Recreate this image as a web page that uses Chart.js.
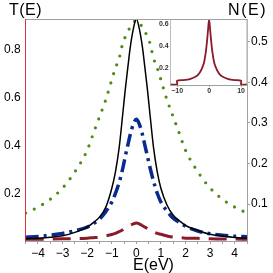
<!DOCTYPE html>
<html><head><meta charset="utf-8">
<script src="https://cdn.jsdelivr.net/npm/chart.js@4"></script>
<style>
html,body{margin:0;padding:0;background:#fff;}
#wrap{position:relative;width:273px;height:273px;overflow:hidden;font-family:"Liberation Sans",Arial,sans-serif;background:#fff;}
#main{position:absolute;left:0;top:0;width:273px;height:273px;}
#inset{position:absolute;left:150px;top:12px;width:102px;height:88px;}
.lbl{position:absolute;color:#000;white-space:nowrap;line-height:1;}
</style></head><body>
<div id="wrap">
<canvas id="main" width="273" height="273"></canvas>
<canvas id="inset" width="102" height="88"></canvas>
<div class="lbl" style="left:9px;top:2px;font-size:16px;letter-spacing:0.5px">T(E)</div>
<div class="lbl" style="left:228px;top:2px;font-size:16px;letter-spacing:1.6px">N(E)</div>
<div class="lbl" style="left:133px;top:257px;font-size:16px">E(eV)</div>
</div>
<script>
// ---- main panel data ----
const energy = [-4.5,-4,-3.5,-3,-2.5,-2,-1.75,-1.5,-1.25,-1,-0.85,-0.7,-0.55,-0.45,-0.35,-0.25,-0.12,0,0.12,0.25,0.35,0.45,0.55,0.7,0.85,1,1.25,1.5,1.75,2,2.5,3,3.5,4,4.5];
const solidT   = [0.009,0.012,0.016,0.022,0.036,0.058,0.077,0.1,0.14,0.22,0.29,0.39,0.535,0.635,0.724,0.81,0.89,0.93,0.89,0.81,0.724,0.635,0.535,0.39,0.29,0.22,0.15,0.108,0.085,0.065,0.044,0.028,0.021,0.015,0.011];
const dashDotT = [0.016,0.019,0.025,0.032,0.043,0.058,0.072,0.092,0.122,0.163,0.2,0.245,0.305,0.355,0.4,0.445,0.49,0.51,0.49,0.445,0.4,0.355,0.31,0.25,0.2,0.163,0.125,0.095,0.078,0.062,0.042,0.03,0.024,0.02,0.018];
const dashedT  = [0.007,0.007,0.008,0.009,0.01,0.012,0.014,0.016,0.021,0.027,0.032,0.039,0.047,0.054,0.06,0.066,0.072,0.075,0.072,0.064,0.058,0.052,0.046,0.038,0.032,0.028,0.021,0.016,0.014,0.012,0.011,0.009,0.008,0.008,0.007];
const dottedT  = [0.117,0.142,0.175,0.222,0.29,0.38,0.45,0.52,0.59,0.675,0.725,0.765,0.83,0.855,0.878,0.895,0.915,0.925,0.915,0.895,0.878,0.855,0.83,0.765,0.725,0.675,0.59,0.52,0.45,0.38,0.29,0.222,0.175,0.142,0.117];
const xTickValues = [-4.5,-4,-3.5,-3,-2.5,-2,-1.5,-1,-0.5,0,0.5,1,1.5,2,2.5,3,3.5,4,4.5];
const tTickValues = [0.2,0.4,0.6,0.8];
const nTickValues = [0.1,0.2,0.3,0.4,0.5];

// ---- inset data ----
const insetE = [-12,-10,-10,-8,-6,-4,-3,-2,-1.5,-1,-0.6,-0.3,0,0.3,0.6,1,1.5,2,3,4,6,8,10,10,12];
const insetN = [0.045,0.045,0.08,0.085,0.095,0.12,0.15,0.21,0.26,0.35,0.46,0.56,0.65,0.56,0.46,0.35,0.26,0.21,0.15,0.12,0.095,0.085,0.08,0.045,0.045];
const insetXTicks = [-10,0,10];
const insetYTicks = [0.2,0.4,0.6];

const FONT = '"Liberation Sans", Arial, sans-serif';
const GRAY = '#a0a0a0';
const minus = v => (v < 0 ? '\u2212' + Math.abs(v) : String(v));
const pts = (xs, ys) => xs.map((x, i) => ({x: x, y: ys[i]}));

const frameTop = {
  id: 'frameTop',
  afterDraw(chart) {
    const a = chart.chartArea, c = chart.ctx;
    c.save(); c.strokeStyle = GRAY; c.lineWidth = 1;
    c.beginPath(); c.moveTo(a.left, a.top + 0.5); c.lineTo(a.right, a.top + 0.5); c.stroke();
    c.restore();
  }
};

new Chart(document.getElementById('main'), {
  type: 'line',
  data: {
    datasets: [
      {data: pts(energy, solidT), borderColor: '#000', borderWidth: 1.5, yAxisID: 'y'},
      {data: pts(energy, dashDotT), borderColor: '#0b2a8f', borderWidth: 3.5, borderDash: [13,5,3,5], yAxisID: 'y'},
      {data: pts(energy, dashedT), borderColor: '#8c1a2b', borderWidth: 3, borderDash: [18,9], yAxisID: 'y'},
      {data: pts(energy, dottedT), borderColor: '#4f8a12', borderWidth: 3.2, borderDash: [0,9.5], borderCapStyle: 'round', yAxisID: 'y'}
    ]
  },
  options: {
    responsive: false, animation: false, devicePixelRatio: 1,
    layout: {padding: {top: 19, left: 0, right: 0, bottom: 0}},
    elements: {point: {radius: 0}, line: {cubicInterpolationMode: 'monotone', fill: false}},
    plugins: {legend: {display: false}, tooltip: {enabled: false}},
    scales: {
      x: {
        type: 'linear', position: 'bottom', min: -4.5, max: 4.5,
        afterBuildTicks: s => { s.ticks = xTickValues.map(v => ({value: v})); },
        afterFit: s => { s.height = 32; },
        ticks: {autoSkip: false, maxRotation: 0, padding: 2, color: '#000', font: {family: FONT, size: 12},
          callback: v => (Number.isInteger(v) ? minus(v) : '')},
        grid: {drawOnChartArea: false, drawTicks: true, tickLength: 3, color: GRAY},
        border: {color: GRAY, width: 1}
      },
      y: {
        position: 'left', min: 0, max: 0.93,
        afterBuildTicks: s => { s.ticks = tTickValues.map(v => ({value: v})); },
        afterFit: s => { s.width = 25.7; },
        ticks: {padding: 5, color: '#000', font: {family: FONT, size: 12}, callback: v => v.toFixed(1)},
        grid: {drawOnChartArea: false, drawTicks: false},
        border: {color: '#e3343a', width: 1}
      },
      y2: {
        position: 'right', min: 0.009, max: 0.556,
        afterBuildTicks: s => { s.ticks = nTickValues.map(v => ({value: v})); },
        afterFit: s => { s.width = 26; },
        ticks: {padding: 1, color: '#000', font: {family: FONT, size: 12}, callback: v => v.toFixed(1)},
        grid: {drawOnChartArea: false, drawTicks: true, tickLength: 3, color: GRAY},
        border: {color: GRAY, width: 1}
      }
    }
  },
  plugins: [frameTop]
});

const insetBg = {
  id: 'insetBg',
  beforeDatasetsDraw(chart) {
    const a = chart.chartArea, c = chart.ctx;
    c.save(); c.fillStyle = '#fff'; c.fillRect(a.left, a.top, a.right - a.left, a.bottom - a.top); c.restore();
  },
  afterDraw(chart) {
    const a = chart.chartArea, c = chart.ctx;
    c.save(); c.strokeStyle = GRAY; c.lineWidth = 1;
    c.beginPath();
    c.moveTo(a.left, a.top + 0.5); c.lineTo(a.right, a.top + 0.5);
    c.moveTo(a.right - 0.5, a.top); c.lineTo(a.right - 0.5, a.bottom);
    c.stroke(); c.restore();
  }
};

new Chart(document.getElementById('inset'), {
  type: 'line',
  data: {datasets: [{data: pts(insetE, insetN), borderColor: '#8c1a2b', borderWidth: 1.8, tension: 0.25}]},
  options: {
    responsive: false, animation: false, devicePixelRatio: 1,
    layout: {padding: {top: 7, left: 0, right: 4.5, bottom: 0}},
    elements: {point: {radius: 0}},
    plugins: {legend: {display: false}, tooltip: {enabled: false}},
    scales: {
      x: {
        type: 'linear', min: -12, max: 12,
        afterBuildTicks: s => { s.ticks = insetXTicks.map(v => ({value: v})); },
        afterFit: s => { s.height = 15; },
        ticks: {autoSkip: false, maxRotation: 0, padding: 0, color: '#333', font: {family: FONT, size: 7, weight: 'bold'}, callback: v => minus(v)},
        grid: {drawOnChartArea: false, drawTicks: true, tickLength: 2, color: GRAY},
        border: {color: GRAY, width: 1}
      },
      y: {
        min: 0.04, max: 0.65,
        afterBuildTicks: s => { s.ticks = insetYTicks.map(v => ({value: v})); },
        afterFit: s => { s.width = 20.7; },
        ticks: {padding: 2, color: '#333', font: {family: FONT, size: 7, weight: 'bold'}, callback: v => v.toFixed(1)},
        grid: {drawOnChartArea: false, drawTicks: false},
        border: {color: GRAY, width: 1}
      }
    }
  },
  plugins: [insetBg]
});
</script>
</body></html>
